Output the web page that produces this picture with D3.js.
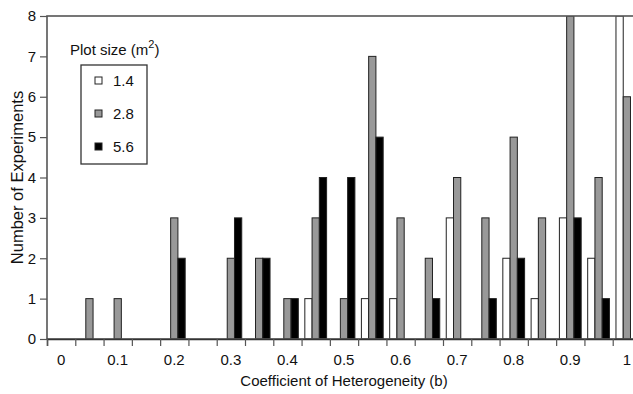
<!DOCTYPE html>
<html>
<head>
<meta charset="utf-8">
<script src="https://cdn.jsdelivr.net/npm/d3@7"></script>
<style>
  body { margin: 0; background: #fff; }
  svg { display: block; font-family: "Liberation Sans", Arial, Helvetica, sans-serif; }
  .tick text { font-size: 15px; fill: #111; }
</style>
</head>
<body>
<svg id="chart" width="633" height="394"></svg>
<script>
// bin centres (coefficient of heterogeneity)
const bins = [0, 0.05, 0.1, 0.15, 0.2, 0.25, 0.3, 0.35, 0.4, 0.45, 0.5,
              0.55, 0.6, 0.65, 0.7, 0.75, 0.8, 0.85, 0.9, 0.95, 1.0];
const seriesNames = ['1.4', '2.8', '5.6'];
const size14 = [0, 0, 0, 0, 0, 0, 0, 0, 0, 1, 0, 1, 1, 0, 3, 0, 2, 1, 3, 2, 8];
const size28 = [0, 1, 1, 0, 3, 0, 2, 2, 1, 3, 1, 7, 3, 2, 4, 3, 5, 3, 8, 4, 6];
const size56 = [0, 0, 0, 0, 2, 0, 3, 2, 1, 4, 4, 5, 0, 1, 0, 1, 2, 0, 3, 1, 0];
const xTickLabels = [0, 0.1, 0.2, 0.3, 0.4, 0.5, 0.6, 0.7, 0.8, 0.9, 1];
const yTicks = [0, 1, 2, 3, 4, 5, 6, 7, 8];
const fills = ['#ffffff', '#999999', '#000000'];

const svg = d3.select('#chart');
const mLeft = 47, mTop = 16, mBottom = 339, mRight = 641;

const x = d3.scaleLinear().domain([-0.025, 1.025]).range([mLeft, mRight]);
const y = d3.scaleLinear().domain([0, 8]).range([mBottom, mTop]);

const binW = x(0.05) - x(0);
const inner = d3.scaleBand().domain(seriesNames).range([-binW * 0.385, binW * 0.385]);

const data = [];
bins.forEach((b, i) => {
    [size14, size28, size56].forEach((vals, s) => {
        if (vals[i] > 0) data.push({ bin: b, series: seriesNames[s], value: vals[i], fill: fills[s] });
    });
});

svg.append('defs').append('clipPath').attr('id', 'plotClip')
    .append('rect').attr('x', mLeft).attr('y', mTop).attr('width', mRight - mLeft).attr('height', mBottom - mTop);

const barsG = svg.append('g').attr('clip-path', 'url(#plotClip)');
barsG.selectAll('rect')
    .data(data)
    .enter()
    .append('rect')
    .attr('x', d => x(d.bin) + inner(d.series))
    .attr('y', d => y(d.value))
    .attr('width', inner.bandwidth())
    .attr('height', d => y(0) - y(d.value))
    .attr('fill', d => d.fill)
    .attr('stroke', '#222')
    .attr('stroke-width', 1);

// frame
svg.append('rect')
    .attr('x', mLeft).attr('y', mTop)
    .attr('width', mRight - mLeft).attr('height', mBottom - mTop)
    .attr('fill', 'none').attr('stroke', '#555').attr('stroke-width', 1.6);

// x axis: ticks at bin edges, labels at every 0.1
const edges = d3.range(0, 21).map(i => -0.025 + i * 0.05);
const xAxis = svg.append('g').attr('transform', `translate(0, ${mBottom})`);
xAxis.call(d3.axisBottom(x).tickValues(edges).tickSize(7).tickFormat(''))
    .call(g => g.select('.domain').attr('stroke', '#333').attr('stroke-width', 1.5))
    .call(g => g.selectAll('.tick line').attr('stroke', '#555').attr('stroke-width', 1.2));
xAxis.selectAll('.lbl')
    .data(xTickLabels)
    .enter()
    .append('text')
    .attr('class', 'lbl')
    .attr('x', d => x(d))
    .attr('y', 26)
    .attr('text-anchor', 'middle')
    .style('font-size', '15px')
    .attr('fill', '#111')
    .text(d => d3.format('')(d));

// y axis
svg.append('g').attr('transform', `translate(${mLeft}, 0)`)
    .call(d3.axisLeft(y).tickValues(yTicks).tickSize(7).tickPadding(4).tickFormat(d3.format('d')))
    .call(g => g.select('.domain').remove())
    .call(g => g.selectAll('.tick line').attr('stroke', '#555').attr('stroke-width', 1.2));

// axis titles
svg.append('text')
    .attr('x', 344).attr('y', 386)
    .attr('text-anchor', 'middle')
    .style('font-size', '15px')
    .attr('fill', '#111')
    .text('Coefficient of Heterogeneity (b)');
svg.append('text')
    .attr('transform', `translate(23, ${(mTop + mBottom) / 2}) rotate(-90)`)
    .attr('text-anchor', 'middle')
    .style('font-size', '16.5px')
    .attr('fill', '#111')
    .text('Number of Experiments');

// legend
const legendTitle = svg.append('text').attr('x', 70).attr('y', 55).style('font-size', '15px').attr('fill', '#111');
legendTitle.append('tspan').text('Plot size (m');
legendTitle.append('tspan').attr('dy', -7).style('font-size', '11px').text('2');
legendTitle.append('tspan').attr('dy', 7).text(')');

svg.append('rect')
    .attr('x', 81).attr('y', 65).attr('width', 66).attr('height', 99)
    .attr('fill', 'none').attr('stroke', '#333').attr('stroke-width', 1.3);

const legendG = svg.selectAll('.legend_item')
    .data(seriesNames)
    .enter()
    .append('g')
    .attr('class', 'legend_item')
    .attr('transform', (d, i) => `translate(95, ${81 + i * 33})`);
legendG.append('rect')
    .attr('x', 0).attr('y', -4).attr('width', 7).attr('height', 7)
    .attr('fill', (d, i) => fills[i]).attr('stroke', '#222').attr('stroke-width', 1);
legendG.append('text')
    .attr('x', 18).attr('y', 5)
    .style('font-size', '15px')
    .attr('fill', '#111')
    .text(d => d);
</script>
</body>
</html>
